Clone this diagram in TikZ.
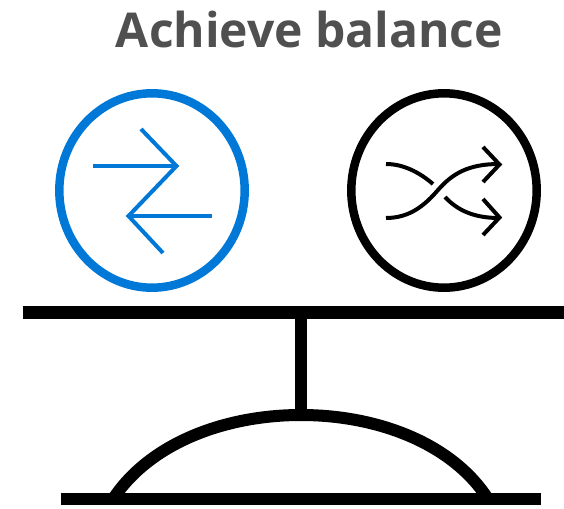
\documentclass[tikz,border=0pt]{standalone}
\usepackage{fontspec}
\setmainfont{Open Sans}
\definecolor{azure}{HTML}{0078D7}
\definecolor{titlegrey}{HTML}{505050}
\tikzset{
  ring/.style={line width=8.5pt},
  glyph/.style={line width=4pt,line join=miter},
  bar/.style={line width=12.5pt}
}
\begin{document}
\begin{tikzpicture}[x=1pt,y=-1pt]
\useasboundingbox (0,0) rectangle (564,508);
\node[text=titlegrey,font=\fontsize{48}{48}\bfseries\selectfont,anchor=base] (title) at (309.5,48) {Achieve balance};
% left circle
\draw[ring,azure] (152,190.5) ellipse [x radius=92.7,y radius=97.2];
\draw[glyph,azure] (93,166) -- (175,166);
\draw[glyph,azure] (141,129) -- (176.5,166) -- (128.5,216) -- (163,253);
\draw[glyph,azure] (129,216) -- (212,216);
% right circle
\draw[ring,black] (444,190.5) ellipse [x radius=92.7,y radius=97.2];
\begin{scope}[line width=4pt]
\draw (386,164) .. controls (403,164) and (419,172) .. (433,184);
\draw (386,218) .. controls (410,218) and (425,205) .. (438,190) .. controls (452,174) and (468,164) .. (499,164);
\draw (445,197) .. controls (458,211) and (475,218) .. (499,218);
\draw (483,147) -- (499.5,164.5) -- (483,182);
\draw (483,199) -- (499.5,217.5) -- (483,235);
\end{scope}
% balance
\draw[bar] (22.5,312.5) -- (564,312.5);
\draw[line width=12pt] (301,312) -- (301,415);
\draw[bar] (60.5,499) -- (541,499);
\draw[line width=12pt] (113,499) .. controls (150,443) and (225,415) .. (301,415) .. controls (377,415) and (452,443) .. (488,499);
\end{tikzpicture}
\end{document}
